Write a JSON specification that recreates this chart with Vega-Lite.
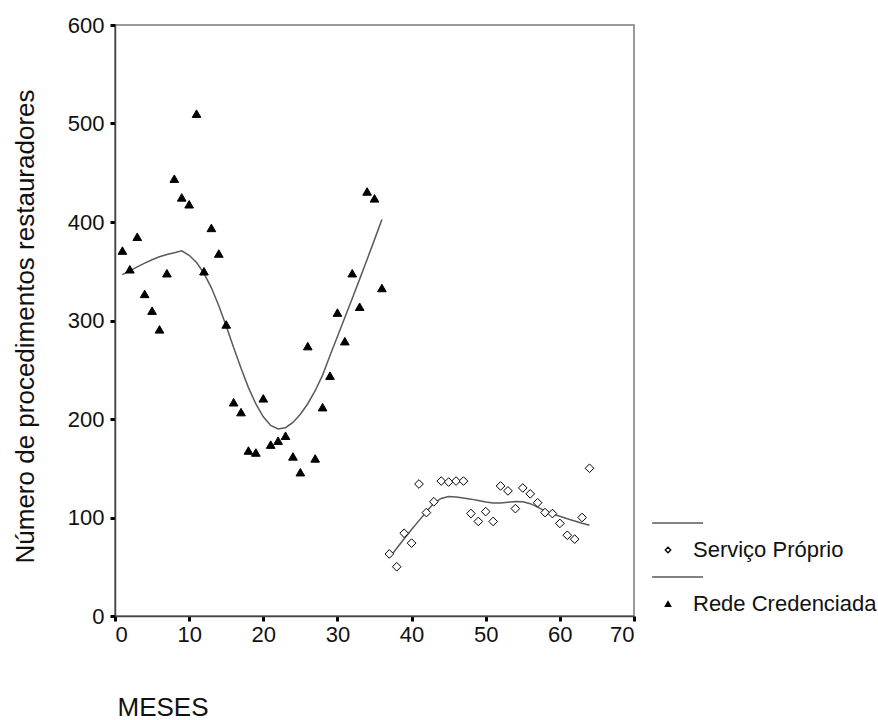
{
  "$schema": "https://vega.github.io/schema/vega-lite/v6.json",
  "width": 519,
  "height": 591,
  "autosize": {"type": "none"},
  "padding": {"left": 115, "top": 25, "right": 244, "bottom": 104},
  "background": "white",
  "config": {
    "font": "Liberation Sans",
    "view": {"stroke": "#7a7a7a", "strokeWidth": 1.5},
    "axis": {
      "grid": false,
      "domainColor": "#444444",
      "domainWidth": 1.5,
      "tickColor": "#000000",
      "tickWidth": 3,
      "tickSize": 5,
      "labelFont": "Liberation Sans",
      "labelFontSize": 22,
      "labelColor": "#111111",
      "titleFont": "Liberation Sans",
      "titleFontSize": 26,
      "titleFontWeight": "normal",
      "titleColor": "#111111"
    },
    "legend": {
      "orient": "none",
      "legendX": 542,
      "legendY": 487,
      "title": null,
      "padding": 0,
      "symbolSize": 30,
      "symbolStrokeWidth": 1.3,
      "labelFont": "Liberation Sans",
      "labelFontSize": 22,
      "labelColor": "#111111",
      "labelOffset": 14,
      "labelLimit": 0,
      "rowPadding": 5
    }
  },
  "data": {
    "values": [
      {"mes": 1, "n": 371, "grupo": "Rede Credenciada"},
      {"mes": 2, "n": 352, "grupo": "Rede Credenciada"},
      {"mes": 3, "n": 385, "grupo": "Rede Credenciada"},
      {"mes": 4, "n": 327, "grupo": "Rede Credenciada"},
      {"mes": 5, "n": 310, "grupo": "Rede Credenciada"},
      {"mes": 6, "n": 291, "grupo": "Rede Credenciada"},
      {"mes": 7, "n": 348, "grupo": "Rede Credenciada"},
      {"mes": 8, "n": 444, "grupo": "Rede Credenciada"},
      {"mes": 9, "n": 425, "grupo": "Rede Credenciada"},
      {"mes": 10, "n": 418, "grupo": "Rede Credenciada"},
      {"mes": 11, "n": 510, "grupo": "Rede Credenciada"},
      {"mes": 12, "n": 350, "grupo": "Rede Credenciada"},
      {"mes": 13, "n": 394, "grupo": "Rede Credenciada"},
      {"mes": 14, "n": 368, "grupo": "Rede Credenciada"},
      {"mes": 15, "n": 296, "grupo": "Rede Credenciada"},
      {"mes": 16, "n": 217, "grupo": "Rede Credenciada"},
      {"mes": 17, "n": 207, "grupo": "Rede Credenciada"},
      {"mes": 18, "n": 168, "grupo": "Rede Credenciada"},
      {"mes": 19, "n": 166, "grupo": "Rede Credenciada"},
      {"mes": 20, "n": 221, "grupo": "Rede Credenciada"},
      {"mes": 21, "n": 174, "grupo": "Rede Credenciada"},
      {"mes": 22, "n": 178, "grupo": "Rede Credenciada"},
      {"mes": 23, "n": 183, "grupo": "Rede Credenciada"},
      {"mes": 24, "n": 162, "grupo": "Rede Credenciada"},
      {"mes": 25, "n": 146, "grupo": "Rede Credenciada"},
      {"mes": 26, "n": 274, "grupo": "Rede Credenciada"},
      {"mes": 27, "n": 160, "grupo": "Rede Credenciada"},
      {"mes": 28, "n": 212, "grupo": "Rede Credenciada"},
      {"mes": 29, "n": 244, "grupo": "Rede Credenciada"},
      {"mes": 30, "n": 308, "grupo": "Rede Credenciada"},
      {"mes": 31, "n": 279, "grupo": "Rede Credenciada"},
      {"mes": 32, "n": 348, "grupo": "Rede Credenciada"},
      {"mes": 33, "n": 314, "grupo": "Rede Credenciada"},
      {"mes": 34, "n": 431, "grupo": "Rede Credenciada"},
      {"mes": 35, "n": 424, "grupo": "Rede Credenciada"},
      {"mes": 36, "n": 333, "grupo": "Rede Credenciada"},
      {"mes": 37, "n": 63, "grupo": "Serviço Próprio"},
      {"mes": 38, "n": 50, "grupo": "Serviço Próprio"},
      {"mes": 39, "n": 84, "grupo": "Serviço Próprio"},
      {"mes": 40, "n": 74, "grupo": "Serviço Próprio"},
      {"mes": 41, "n": 134, "grupo": "Serviço Próprio"},
      {"mes": 42, "n": 105, "grupo": "Serviço Próprio"},
      {"mes": 43, "n": 116, "grupo": "Serviço Próprio"},
      {"mes": 44, "n": 137, "grupo": "Serviço Próprio"},
      {"mes": 45, "n": 136, "grupo": "Serviço Próprio"},
      {"mes": 46, "n": 137, "grupo": "Serviço Próprio"},
      {"mes": 47, "n": 137, "grupo": "Serviço Próprio"},
      {"mes": 48, "n": 104, "grupo": "Serviço Próprio"},
      {"mes": 49, "n": 96, "grupo": "Serviço Próprio"},
      {"mes": 50, "n": 106, "grupo": "Serviço Próprio"},
      {"mes": 51, "n": 96, "grupo": "Serviço Próprio"},
      {"mes": 52, "n": 132, "grupo": "Serviço Próprio"},
      {"mes": 53, "n": 127, "grupo": "Serviço Próprio"},
      {"mes": 54, "n": 109, "grupo": "Serviço Próprio"},
      {"mes": 55, "n": 130, "grupo": "Serviço Próprio"},
      {"mes": 56, "n": 124, "grupo": "Serviço Próprio"},
      {"mes": 57, "n": 115, "grupo": "Serviço Próprio"},
      {"mes": 58, "n": 105, "grupo": "Serviço Próprio"},
      {"mes": 59, "n": 104, "grupo": "Serviço Próprio"},
      {"mes": 60, "n": 94, "grupo": "Serviço Próprio"},
      {"mes": 61, "n": 82, "grupo": "Serviço Próprio"},
      {"mes": 62, "n": 78, "grupo": "Serviço Próprio"},
      {"mes": 63, "n": 100, "grupo": "Serviço Próprio"},
      {"mes": 64, "n": 150, "grupo": "Serviço Próprio"}
    ]
  },
  "layer": [
    {
      "transform": [{"loess": "n", "on": "mes", "groupby": ["grupo"], "bandwidth": 0.5}],
      "mark": {"type": "line", "color": "#5a5a5a", "strokeWidth": 1.5},
      "encoding": {
        "x": {"field": "mes", "type": "quantitative"},
        "y": {"field": "n", "type": "quantitative"},
        "detail": {"field": "grupo", "type": "nominal"}
      }
    },
    {
      "mark": {"type": "point", "filled": true, "size": 75, "strokeWidth": 1, "opacity": 1},
      "encoding": {
        "x": {
          "field": "mes", "type": "quantitative",
          "scale": {"domain": [0, 70], "nice": false, "zero": false},
          "axis": {
            "values": [0, 10, 20, 30, 40, 50, 60, 70],
            "labelPadding": 3,
            "title": "MESES",
            "titleX": 47.5,
            "titleY": 99,
            "titleAlign": "center",
            "titleBaseline": "alphabetic"
          }
        },
        "y": {
          "field": "n", "type": "quantitative",
          "scale": {"domain": [0, 600], "nice": false},
          "axis": {
            "values": [0, 100, 200, 300, 400, 500, 600],
            "labelPadding": 6,
            "title": "Número de procedimentos restauradores",
            "titleAngle": -90,
            "titleX": -90,
            "titleY": 301,
            "titleAlign": "center",
            "titleBaseline": "middle"
          }
        },
        "shape": {
          "field": "grupo", "type": "nominal",
          "scale": {
            "domain": ["l1", "Serviço Próprio", "l2", "Rede Credenciada"],
            "range": ["M-5.8,0H12.8", "diamond", "M-5.8,0H12.8", "triangle-up"]
          },
          "legend": {
            "labelExpr": "datum.value == 'l1' || datum.value == 'l2' ? ' ' : datum.value"
          }
        },
        "fill": {
          "field": "grupo", "type": "nominal",
          "scale": {
            "domain": ["l1", "Serviço Próprio", "l2", "Rede Credenciada"],
            "range": ["transparent", "#ffffff", "transparent", "#000000"]
          },
          "legend": {
            "labelExpr": "datum.value == 'l1' || datum.value == 'l2' ? ' ' : datum.value"
          }
        },
        "stroke": {
          "field": "grupo", "type": "nominal",
          "scale": {
            "domain": ["l1", "Serviço Próprio", "l2", "Rede Credenciada"],
            "range": ["#5a5a5a", "#000000", "#5a5a5a", "#000000"]
          },
          "legend": {
            "labelExpr": "datum.value == 'l1' || datum.value == 'l2' ? ' ' : datum.value"
          }
        }
      }
    }
  ]
}
